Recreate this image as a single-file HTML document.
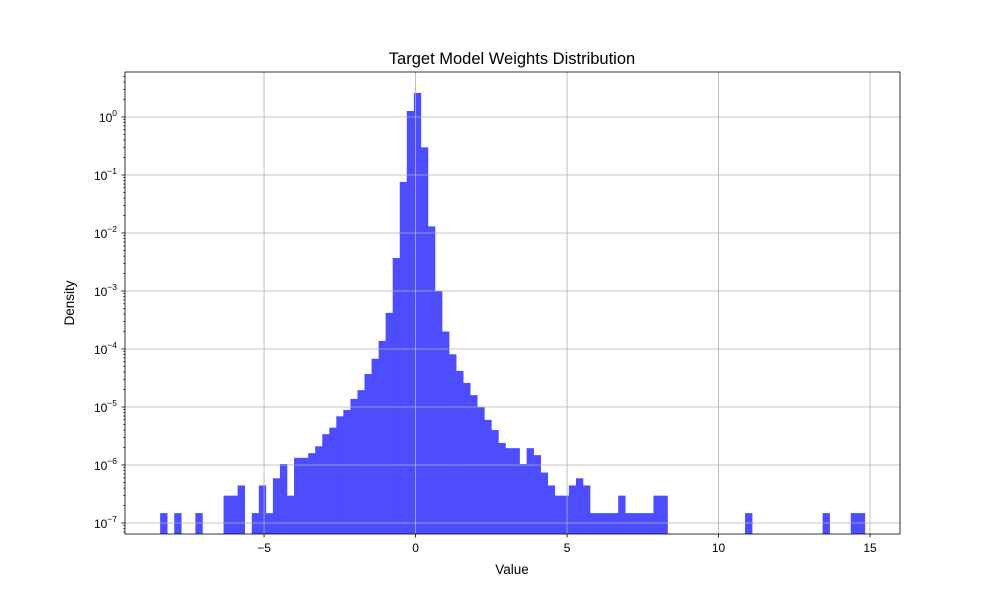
<!DOCTYPE html>
<html><head><meta charset="utf-8"><style>body{margin:0;background:#fff}svg{display:block;font-family:"Liberation Sans","DejaVu Sans",sans-serif}</style></head>
<body>
<svg id="chart" width="1000" height="600" xmlns="http://www.w3.org/2000/svg">
<text x="512" y="64" text-anchor="middle" font-size="16.5">Target Model Weights Distribution</text>
<text x="512" y="574" text-anchor="middle" font-size="13.5">Value</text>
<text x="74" y="303" text-anchor="middle" font-size="13.5" transform="rotate(-90 74 303)">Density</text>
<g id="bars"></g><g id="grid"></g><g id="axes"></g>
</svg>
<script>
const binMin = -8.43;
const binMax = 14.83;
const densities = [1.48e-7,0,1.48e-7,0,0,1.48e-7,0,0,0,2.96e-7,
2.96e-7,4.44e-7,0,1.48e-7,4.44e-7,1.48e-7,5.9e-7,1.04e-6,2.96e-7,1.33e-6,
1.33e-6,1.6e-6,2.1e-6,3.4e-6,4.4e-6,6.9e-6,8.9e-6,1.38e-5,1.95e-5,3.7e-5,
6.8e-5,1.38e-4,4.2e-4,3.7e-3,0.076,1.27,2.6,0.30,0.013,1.0e-3,
2.0e-4,8.1e-5,4.2e-5,2.6e-5,1.6e-5,1.0e-5,6e-6,4e-6,2.4e-6,1.95e-6,
1.95e-6,1.04e-6,1.95e-6,1.48e-6,7.4e-7,4.44e-7,2.96e-7,2.96e-7,4.44e-7,5.9e-7,
4.44e-7,1.48e-7,1.48e-7,1.48e-7,1.48e-7,2.96e-7,1.48e-7,1.48e-7,1.48e-7,1.48e-7,
2.96e-7,2.96e-7,0,0,0,0,0,0,0,0,
0,0,0,1.48e-7,0,0,0,0,0,0,
0,0,0,0,1.48e-7,0,0,0,1.48e-7,1.48e-7];
const xTicks = [-5,0,5,10,15];
const yTickExps = [0,-1,-2,-3,-4,-5,-6,-7];

const L=125,R=900,T=72,B=534;
const xMin=-9.59,xMax=15.99,lMin=-7.19,lMax=0.776;
const X=v=>L+(v-xMin)/(xMax-xMin)*(R-L);
const Y=d=>B-(Math.log10(d)-lMin)/(lMax-lMin)*(B-T);
const NS="http://www.w3.org/2000/svg";
function mk(tag,attrs,parent){const e=document.createElementNS(NS,tag);for(const k in attrs)e.setAttribute(k,attrs[k]);parent.appendChild(e);return e;}
const bars=document.getElementById('bars'),grid=document.getElementById('grid'),axes=document.getElementById('axes');
const w=(binMax-binMin)/densities.length;
densities.forEach((d,i)=>{
  if(d<=0)return;
  const x0=X(binMin+i*w),x1=X(binMin+(i+1)*w),y=Y(d);
  const r=mk('rect',{x:x0,y:y,width:x1-x0+0.3,height:B-y,fill:'#4d4dff'},bars);
  
  
});
xTicks.forEach(t=>{
  const x=X(t);
  const g=mk('line',{x1:x,x2:x,y1:T,y2:B,stroke:'#b0b0b0','stroke-width':0.8},grid);
  
  
  mk('line',{x1:x,x2:x,y1:B,y2:B+3.5,stroke:'#000','stroke-width':0.8},axes);
  const tx=mk('text',{x:x,y:B+18,'text-anchor':'middle','font-size':12},axes);
  tx.textContent=(t<0?'\u2212'+(-t):String(t));
  
  
});
yTickExps.forEach(e=>{
  const y=Y(Math.pow(10,e));
  const g=mk('line',{x1:L,x2:R,y1:y,y2:y,stroke:'#b0b0b0','stroke-width':0.8},grid);
  
  
  mk('line',{x1:L-3.5,x2:L,y1:y,y2:y,stroke:'#000','stroke-width':0.8},axes);
  const tx=mk('text',{x:L-8,y:y+5,'text-anchor':'end','font-size':12},axes);
  
  
  const a=mk('tspan',{},tx);a.textContent='10';
  const b=mk('tspan',{dy:-6,'font-size':8.5},tx);b.textContent=(e<0?'\u2212'+(-e):String(e));
});
for(let e=-8;e<=0;e++){for(let m=2;m<=9;m++){const v=m*Math.pow(10,e);const lv=Math.log10(v);if(lv<lMin||lv>lMax)continue;const y=Y(v);mk('line',{x1:L-2,x2:L,y1:y,y2:y,stroke:'#000','stroke-width':0.6},axes);}}
const f=mk('rect',{x:L,y:T,width:R-L,height:B-T,fill:'none',stroke:'#000','stroke-width':0.8},axes);


</script>
</body></html>
